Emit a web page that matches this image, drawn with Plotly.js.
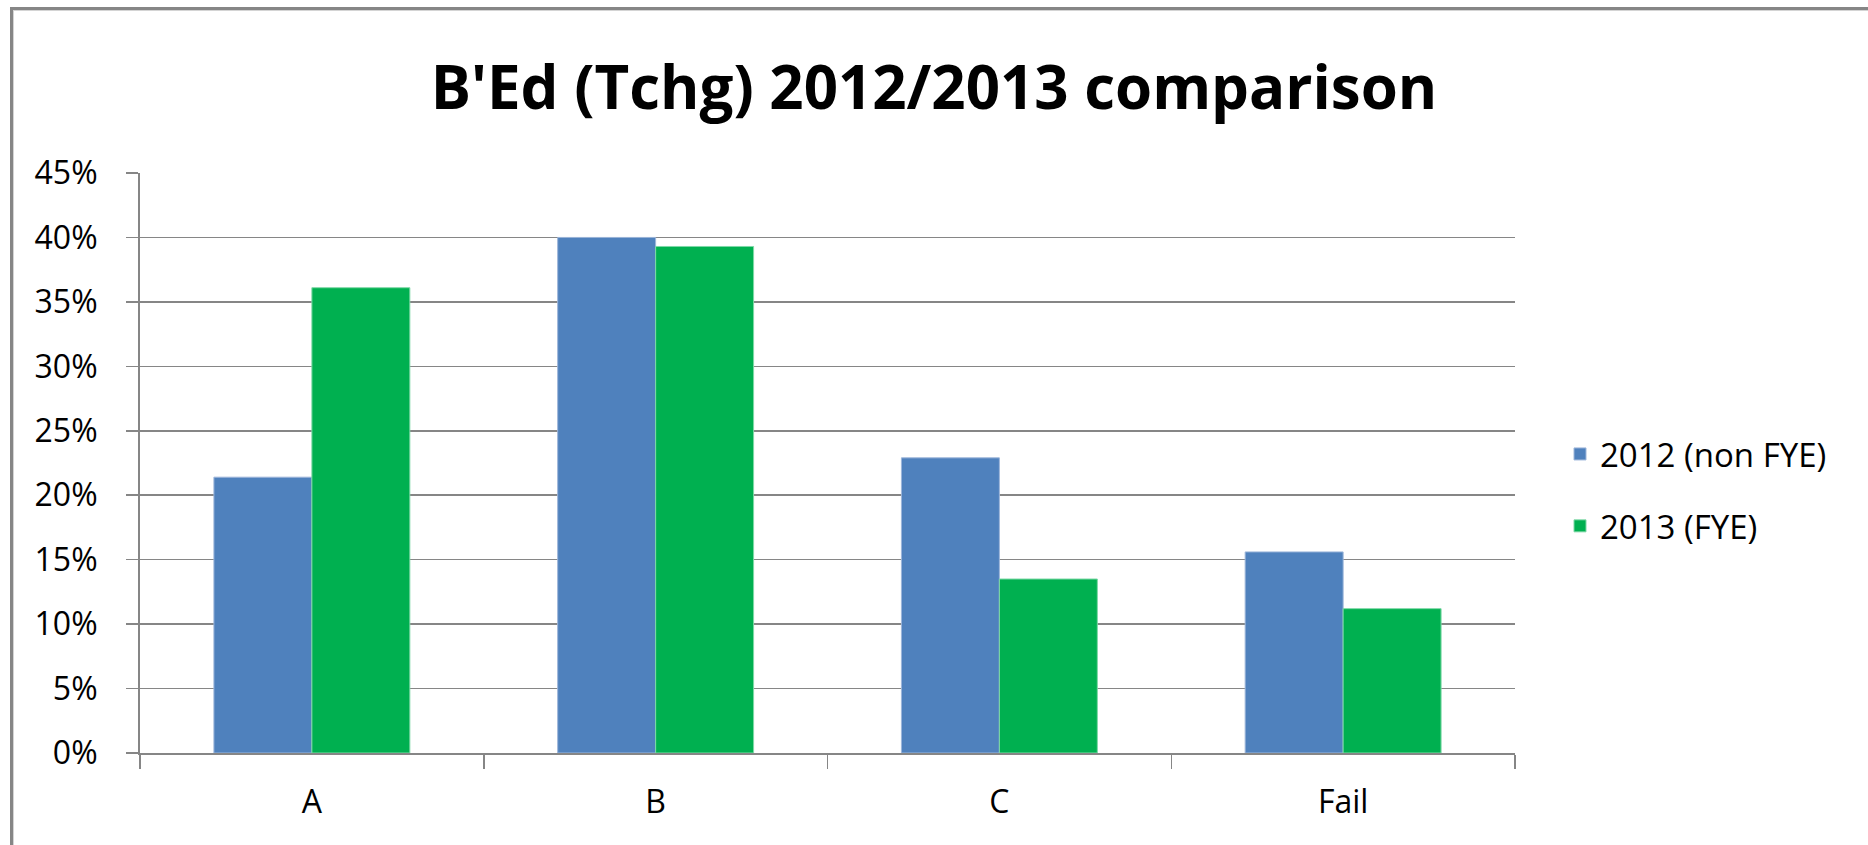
<!DOCTYPE html>
<html>
<head>
<meta charset="utf-8">
<script src="https://cdn.plot.ly/plotly-3.0.1.min.js"></script>
<style>
  html, body { margin: 0; padding: 0; background: #fff; }
  #wrap { position: relative; width: 1868px; height: 845px; }
  #chart { width: 1868px; height: 845px; }
  #frame { position: absolute; left: 10px; top: 7px; right: 0; bottom: 0;
           border-top: 3px solid #868686; border-left: 3px solid #868686; pointer-events: none; }
  #frame2 { position: absolute; left: 13px; top: 10px; right: 0; bottom: 0;
           border-top: 1px solid #d4d4d4; border-left: 1px solid #d4d4d4; pointer-events: none; }
</style>
</head>
<body>
<div id="wrap">
  <div id="chart"></div>
  <div id="frame"></div>
  <div id="frame2"></div>
</div>
<script>
const categories = ["A", "B", "C", "Fail"];
const series2012 = [0.214, 0.400, 0.229, 0.156];
const series2013 = [0.361, 0.393, 0.135, 0.112];
const seriesNames = ["2012 (non FYE)", "2013 (FYE)"];
const titleText = "B'Ed (Tchg) 2012/2013 comparison";

const traces = [
  {
    type: "bar", name: seriesNames[0], x: categories, y: series2012,
    marker: { color: "#4F81BD", line: { color: "#9DB6DA", width: 1 } },
    legendgroup: "g1", hoverinfo: "x+y"
  },
  {
    type: "bar", name: seriesNames[1], x: categories, y: series2013,
    marker: { color: "#00B050", line: { color: "#7FD8A7", width: 1 } },
    legendgroup: "g2", hoverinfo: "x+y"
  }
];

const layout = {
  width: 1868, height: 845,
  paper_bgcolor: "#ffffff", plot_bgcolor: "#ffffff",
  margin: { l: 140, r: 353, t: 173, b: 92, pad: 0 },
  barmode: "group", bargap: 0.43, bargroupgap: 0,
  font: { family: "Open Sans, sans-serif", color: "#000000", size: 32 },
  title: {
    text: titleText,
    font: { family: "Open Sans, sans-serif", size: 60, color: "#000000", weight: "bold" },
    xref: "container", x: 0.5, xanchor: "center",
    yref: "container", y: 1 - 88 / 845, yanchor: "middle"
  },
  xaxis: {
    type: "category",
    showgrid: false,
    showline: true, linecolor: "#868686", linewidth: 2,
    ticks: "outside", tickson: "boundaries", ticklen: 14, tickcolor: "#868686", tickwidth: 1.5,
    tickfont: { size: 32, color: "#000000" },
    ticklabelstandoff: 20,
    zeroline: false
  },
  yaxis: {
    range: [0, 0.45], dtick: 0.05, tick0: 0, tickformat: ".0%",
    showgrid: true, gridcolor: "#868686", gridwidth: 1.5,
    showline: true, linecolor: "#868686", linewidth: 2,
    ticks: "outside", ticklen: 12, tickcolor: "#868686", tickwidth: 1.5,
    tickfont: { size: 32, color: "#000000" },
    ticklabelstandoff: 22,
    zeroline: false
  },
  showlegend: true,
  legend: {
    xref: "container", yref: "container",
    x: 1560 / 1868, xanchor: "left",
    y: 1 - 490 / 845, yanchor: "middle",
    font: { size: 33, color: "#000000" },
    traceorder: "grouped", tracegroupgap: 26,
    bgcolor: "rgba(0,0,0,0)"
  }
};

Plotly.newPlot("chart", traces, layout, { displayModeBar: false, staticPlot: true });
</script>
</body>
</html>
